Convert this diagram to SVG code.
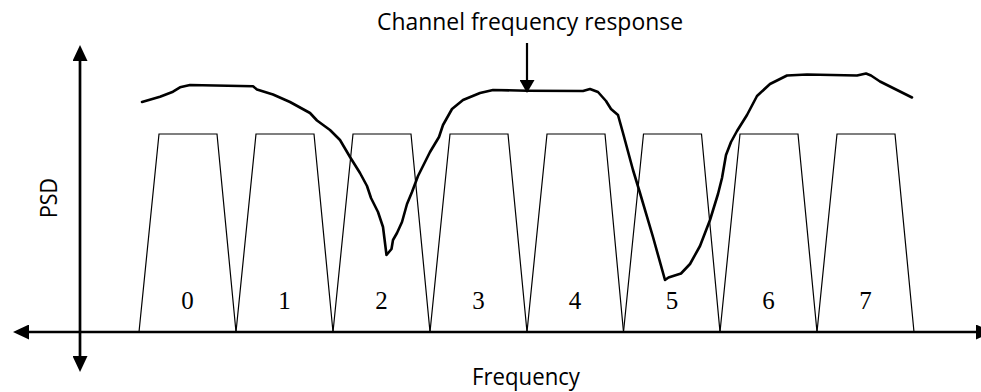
<svg xmlns="http://www.w3.org/2000/svg" width="981" height="392" viewBox="0 0 981 392">
  <defs>
    <marker id="ah" viewBox="0 0 16 15" refX="8" refY="7.5" markerWidth="16" markerHeight="15" markerUnits="userSpaceOnUse" orient="auto-start-reverse">
      <path d="M0,0 L16,7.5 L0,15 Z" fill="#000"/>
    </marker>
    <marker id="ah2" viewBox="0 0 13 15" refX="6" refY="7.5" markerWidth="13" markerHeight="15" markerUnits="userSpaceOnUse" orient="auto">
      <path d="M0,0 L13,7.5 L0,15 Z" fill="#000"/>
    </marker>
  </defs>
  <style>
    .trap { fill: none; stroke: #000; stroke-width: 1.2; stroke-linejoin: miter; }
    .num { font-family: "Liberation Serif", "Times New Roman", serif; font-size: 25px; fill: #000; text-anchor: middle; }
    .lbl { font-family: "Open Sans", "Noto Sans", sans-serif; font-size: 23px; fill: #000; text-anchor: middle; }
    .axis { stroke: #000; stroke-width: 2.7; fill: none; }
    .curve { fill: none; stroke: #000; stroke-width: 2.6; stroke-linejoin: round; stroke-linecap: round; }
  </style>
  <rect width="981" height="392" fill="#fff"/>

  <g id="channel-0"><path class="trap" d="M139,332 L159,134 L217,134 L236,332"/><text class="num" x="187.5" y="309">0</text></g>
  <g id="channel-1"><path class="trap" d="M236,332 L256,134 L314,134 L333,332"/><text class="num" x="284.5" y="309">1</text></g>
  <g id="channel-2"><path class="trap" d="M333,332 L353,134 L411,134 L430,332"/><text class="num" x="381.5" y="309">2</text></g>
  <g id="channel-3"><path class="trap" d="M430,332 L450,134 L508,134 L527,332"/><text class="num" x="478.5" y="309">3</text></g>
  <g id="channel-4"><path class="trap" d="M527,332 L547,134 L605,134 L623.5,332"/><text class="num" x="575" y="309">4</text></g>
  <g id="channel-5"><path class="trap" d="M623.5,332 L643.5,134 L701.5,134 L720,332"/><text class="num" x="672" y="309">5</text></g>
  <g id="channel-6"><path class="trap" d="M720,332 L740,134 L798,134 L817,332"/><text class="num" x="768.5" y="309">6</text></g>
  <g id="channel-7"><path class="trap" d="M817,332 L837,134 L895,134 L914,332"/><text class="num" x="865.5" y="309">7</text></g>

  <g id="response-curve">
    <path class="curve" d="M142,102 L160,96.7 L173,91.7 L180,87.3 L190,85 L253,86.3 L257,89.5 L273,94.5 L290,102 L310,113 L317,120.5 L330,130 L340,140 L350,157 L360,173 L367,186 L371,198 L378,212 L383,227 L385.5,247 L386.5,255 L391.5,249 L393,240 L397,233 L402,222 L407,204 L412,192 L418,176 L430,152 L439,137 L443,125 L452,109 L463,100 L480,93 L493,90 L527,90.7 L583,91 L590,89 L598,92 L606,101 L611,109 L618,115 L623,133 L633,170 L640,193 L653,237 L665,280 L668.5,277.5 L681,273.5 L690,264 L700,246 L710,220 L718,194 L722,178 L726,155 L731,142 L737,131 L747,115 L757,96 L770,84 L787,75.5 L807,74.5 L857,75.5 L866,73.5 L871,75.5 L880,81.5 L912,97.5"/>
  </g>

  <g id="connectors">
    <line class="axis" x1="21" y1="332" x2="984" y2="332" marker-start="url(#ah)" marker-end="url(#ah)"/>
    <line class="axis" x1="80" y1="364" x2="80" y2="53" marker-start="url(#ah)" marker-end="url(#ah)"/>
    <line x1="527" y1="43" x2="527" y2="86" stroke="#000" stroke-width="2.2" marker-end="url(#ah2)"/>
  </g>

  <g id="labels">
    <text class="lbl" x="530" y="30" textLength="306" lengthAdjust="spacingAndGlyphs">Channel frequency response</text>
    <text class="lbl" x="526" y="385" textLength="108" lengthAdjust="spacingAndGlyphs">Frequency</text>
    <text class="lbl" transform="translate(57,198) rotate(-90)" x="0" y="0" textLength="40" lengthAdjust="spacingAndGlyphs">PSD</text>
  </g>
</svg>
